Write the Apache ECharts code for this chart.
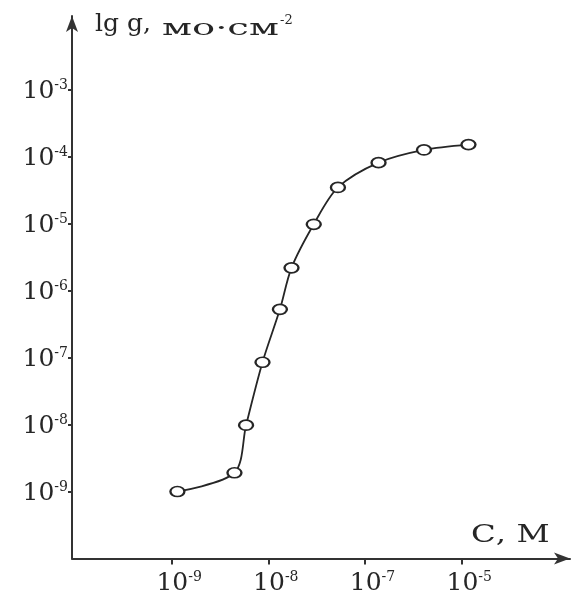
<!DOCTYPE html>
<html><head><meta charset="utf-8">
<script src="https://cdn.jsdelivr.net/npm/echarts@6/dist/echarts.min.js"></script>
<style>html,body{margin:0;padding:0;background:#fff}#c{width:578px;height:596px}</style>
</head><body><div id="c"></div>
<script>
// x positions in "tick slot" units (0 -> 10^-9, 1 -> 10^-8, 2 -> 10^-7, 3 -> 10^-5)
const xPos = [0.06, 0.65, 0.77, 0.94, 1.12, 1.24, 1.47, 1.72, 2.14, 2.61, 3.07];
// lg g values (exponent)
const lgG = [-9.0, -8.72, -8.01, -7.07, -6.28, -5.66, -5.01, -4.46, -4.09, -3.90, -3.82];
const xTickPos = [0, 1, 2, 3];
const xTickExp = ['-9', '-8', '-7', '-5'];
const yTickVals = [-9, -8, -7, -6, -5, -4, -3];
const yNameA = 'lg g,';
const yNameB = 'мо·см';
const yNameSup = '-2';
const xName = 'С, М';

const serif = '"DejaVu Serif","Liberation Serif",serif';
const ink = '#262626';
const rich = {
  b: {fontFamily: serif, fontSize: 25, color: ink, lineHeight: 27},
  s: {fontFamily: serif, fontSize: 14, color: ink, padding: [0, 0, 12, 0], lineHeight: 27}
};
const chart = echarts.init(document.getElementById('c'));
chart.setOption({
  animation: false,
  grid: {left: 72, right: 8, top: 16, bottom: 37},
  xAxis: {
    type: 'value', min: -1.03, max: 4.12,
    axisLine: {show: true, onZero: false, lineStyle: {color: '#333', width: 2}, symbol: ['none', 'arrow'], symbolSize: [9, 16]},
    axisTick: {show: true, customValues: xTickPos, length: 6, lineStyle: {color: '#333', width: 2}},
    axisLabel: {customValues: xTickPos, margin: 11, rich: rich, padding: [0, 0, 0, 15],
      formatter: v => { const i = xTickPos.indexOf(Math.round(v)); return i < 0 ? '' : '{b|10}{s|' + xTickExp[i] + '}'; }},
    splitLine: {show: false}
  },
  yAxis: {
    type: 'value', min: -10, max: -1.9,
    axisLine: {show: true, onZero: false, lineStyle: {color: '#333', width: 2}, symbol: ['none', 'arrow'], symbolSize: [9, 16]},
    axisTick: {show: true, customValues: yTickVals, length: 4, lineStyle: {color: '#333', width: 2}},
    axisLabel: {customValues: yTickVals, margin: 4, rich: rich, padding: [4, 0, 0, 0],
      formatter: v => '{b|10}{s|' + Math.round(v) + '}'},
    splitLine: {show: false}
  },
  graphic: [
    {type: 'text', x: 95, y: 12, style: {text: yNameA, font: '25px ' + serif, fill: ink}},
    {type: 'text', x: 162, y: 18, scaleX: 1.75, style: {text: yNameB, font: '22px ' + serif, fill: ink}},
    {type: 'text', x: 280, y: 14, style: {text: yNameSup, font: '13px ' + serif, fill: ink}},
    {type: 'text', x: 471, y: 524, scaleX: 1.35, style: {text: xName, font: '24px ' + serif, fill: ink}}
  ],
  series: [{
    type: 'line', data: xPos.map((x, i) => [x, lgG[i]]), smooth: 0.3,
    lineStyle: {color: ink, width: 1.8},
    symbol: 'emptyCircle', symbolSize: [14, 10],
    itemStyle: {color: ink, borderWidth: 2}
  }]
});
</script></body></html>
